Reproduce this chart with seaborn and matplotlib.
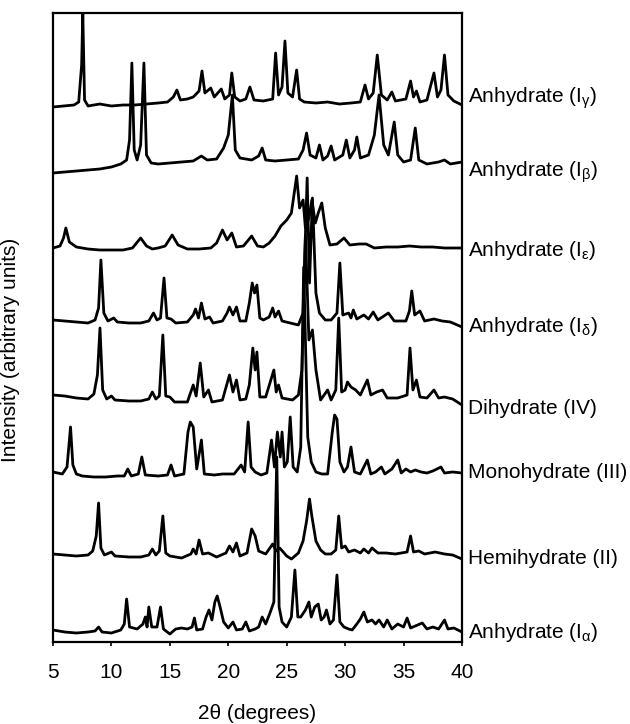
import matplotlib
matplotlib.use("Agg")
import matplotlib.pyplot as plt
import seaborn as sns

# Estilo base
sns.set_theme(style="ticks")
plt.rcParams['font.family'] = ['Liberation Sans', 'DejaVu Sans']
plt.rcParams['mathtext.fontset'] = 'custom'
plt.rcParams['mathtext.rm'] = 'Liberation Sans'
plt.rcParams['mathtext.it'] = 'Liberation Sans'
plt.rcParams['text.color'] = 'black'
plt.rcParams['axes.labelcolor'] = 'black'
plt.rcParams['xtick.color'] = 'black'

# Nombres de las fases (de arriba hacia abajo)
labels = [r'Anhydrate (I$_{\gamma}$)', r'Anhydrate (I$_{\beta}$)',
          r'Anhydrate (I$_{\varepsilon}$)', r'Anhydrate (I$_{\delta}$)',
          'Dihydrate (IV)', 'Monohydrate (III)', 'Hemihydrate (II)',
          r'Anhydrate (I$_{\alpha}$)']

# Desplazamiento vertical de cada difractograma (unidades arbitrarias)
offsets = [537, 472, 394, 319, 242, 165, 86, 10]
# Posicion vertical de cada etiqueta
label_y = [544, 470, 392, 315, 234, 169, 84, 10]

# Anhydrate (I gamma)
tt_gamma = [5.0, 6.8, 7.2, 7.45, 7.55, 7.7, 8.0, 9.0, 10.0, 11.0, 12.0, 13.0, 14.0, 14.8, 15.3, 15.6,
            15.9, 16.5, 17.0, 17.5, 17.75, 18.0, 18.5, 18.8, 19.4, 19.7, 20.1, 20.3, 20.55, 21.0,
            21.5, 21.85, 22.2, 23.0, 23.8, 24.05, 24.3, 24.6, 24.85, 25.1, 25.5, 25.85, 26.1, 26.5,
            27.5, 28.5, 29.5, 30.5, 31.3, 31.7, 32.0, 32.4, 32.75, 33.1, 33.6, 34.0, 34.3, 35.2,
            35.6, 35.85, 36.1, 36.4, 37.0, 37.6, 37.9, 38.2, 38.5, 38.8, 39.3, 40.0]
int_gamma = [-2, 0, 3, 40, 92, 5, -1, 1, -1, 0, 0, 1, 2, 3, 8, 15,
             5, 6, 8, 14, 34, 12, 17, 8, 16, 6, 10, 32, 8, 4,
             6, 18, 5, 4, 6, 52, 10, 18, 64, 12, 8, 35, 6, 3,
             2, 3, 1, 2, 3, 20, 6, 12, 50, 10, 5, 13, 4, 6,
             24, 8, 14, 3, 5, 32, 8, 15, 50, 10, 4, 0]

# Anhydrate (I beta)
tt_beta = [5.0, 6.0, 7.0, 8.0, 9.0, 10.0, 10.8, 11.3, 11.55, 11.75, 11.95, 12.2, 12.5, 12.78, 13.0,
           13.4, 14.0, 15.0, 16.0, 17.0, 17.7, 18.2, 19.0, 19.6, 20.0, 20.35, 20.6, 21.0, 22.0,
           22.6, 22.9, 23.2, 24.0, 25.0, 26.0, 26.4, 26.7, 27.0, 27.5, 27.8, 28.1, 28.5, 28.8,
           29.1, 29.8, 30.1, 30.4, 30.8, 31.0, 31.3, 32.0, 32.5, 32.9, 33.3, 33.7, 34.2, 34.5,
           35.0, 35.6, 36.0, 36.3, 37.0, 38.0, 38.5, 39.0, 40.0]
int_beta = [-3, -2, -1, 0, 1, 3, 6, 10, 30, 107, 20, 10, 25, 107, 15,
            7, 6, 7, 8, 9, 14, 10, 11, 22, 35, 75, 20, 12, 10,
            14, 22, 10, 9, 10, 11, 20, 37, 15, 12, 25, 10, 14, 24,
            10, 15, 30, 12, 20, 33, 12, 15, 35, 75, 25, 15, 48, 15,
            8, 10, 42, 10, 6, 8, 10, 6, 8]

# Anhydrate (I epsilon)
tt_eps = [5.0, 5.6, 5.9, 6.1, 6.4, 7.0, 8.0, 9.0, 10.0, 11.0, 11.8, 12.5, 13.0, 13.5, 14.0, 14.6,
          15.2, 15.7, 16.5, 17.5, 18.5, 19.0, 19.5, 19.9, 20.3, 20.7, 21.3, 22.0, 22.5, 23.0,
          23.5, 24.0, 24.5, 25.0, 25.4, 25.85, 26.1, 26.4, 26.6, 26.9, 27.15, 27.45, 27.7, 28.0,
          28.3, 28.7, 29.3, 29.9, 30.4, 31.2, 31.8, 32.5, 33.5, 34.5, 35.5, 36.5, 37.5, 38.5, 40.0]
int_eps = [0, 2, 10, 20, 6, 1, -1, -2, -2, -2, 0, 10, 2, -1, 0, 2,
           13, 3, -1, -1, 0, 5, 18, 8, 15, 1, 2, 12, 2, 1,
           5, 12, 22, 28, 35, 72, 40, 48, 20, 30, 48, 25, 35, 45,
           20, 3, 4, 10, 3, 4, 4, 0, 1, 1, 2, 1, 1, 0, 0]

# Anhydrate (I delta)
tt_delta = [5.0, 6.0, 7.0, 8.0, 8.6, 8.9, 9.1, 9.35, 9.7, 10.2, 10.5, 11.5, 12.5, 13.2, 13.6, 13.9,
            14.2, 14.5, 14.75, 15.1, 15.5, 16.5, 17.0, 17.2, 17.45, 17.7, 18.0, 18.4, 18.7, 19.5,
            19.9, 20.1, 20.4, 20.7, 21.0, 21.5, 21.8, 22.05, 22.25, 22.45, 22.7, 23.0, 23.5, 23.8,
            24.0, 24.3, 24.6, 25.3, 26.0, 26.4, 26.75, 26.95, 27.2, 27.5, 27.8, 28.3, 28.8, 29.3,
            29.55, 29.8, 30.3, 30.5, 30.7, 31.0, 31.6, 32.0, 32.4, 32.8, 33.7, 34.2, 35.2, 35.5,
            35.7, 35.95, 36.4, 36.8, 37.6, 38.3, 39.0, 40.0]
int_delta = [3, 2, 1, 0, 3, 15, 63, 10, 2, 5, 1, 0, 0, 2, 10, 3,
             5, 45, 5, 4, 0, 1, 8, 14, 5, 20, 4, 6, 0, 2,
             10, 16, 8, 16, 2, 2, 20, 40, 30, 38, 5, 3, 6, 15,
             6, 12, 2, 0, -2, 10, 145, 40, 125, 30, 10, 3, 3, 10,
             60, 8, 10, 5, 13, 4, 8, 4, 11, 3, 10, 2, 2, 12,
             32, 8, 12, 2, 4, 2, 1, -4]

# Dihydrate (IV)
tt_iv = [5.0, 6.0, 7.0, 8.0, 8.5, 8.8, 9.02, 9.25, 9.6, 10.0, 10.3, 11.5, 12.5, 13.2, 13.5, 13.8,
         14.1, 14.4, 14.65, 15.0, 15.4, 16.5, 17.0, 17.25, 17.6, 17.9, 18.3, 18.6, 19.5, 20.1,
         20.4, 20.7, 21.0, 21.5, 21.8, 22.1, 22.3, 22.45, 22.7, 23.2, 23.9, 24.1, 24.3, 24.6,
         25.5, 26.0, 26.3, 26.6, 26.9, 27.2, 27.5, 27.9, 28.5, 28.8, 29.2, 29.45, 29.7, 30.0,
         30.2, 30.5, 30.9, 31.3, 31.9, 32.2, 32.7, 33.2, 33.6, 34.5, 35.3, 35.55, 35.8, 36.1,
         36.4, 37.0, 37.6, 38.0, 38.5, 39.2, 40.0]
int_iv = [5, 4, 2, 1, 6, 25, 72, 10, 1, 4, 0, -1, -1, 1, 8, 1,
          4, 65, 4, 3, -2, -2, 15, 4, 37, 3, 10, -2, 0, 25,
          8, 20, 0, 1, 15, 52, 30, 48, 3, 3, 30, 8, 15, 2,
          0, 5, 30, 165, 60, 70, 30, 0, 10, 0, 10, 82, 8, 10,
          18, 13, 10, 5, 20, 5, 8, 10, 2, 2, 5, 52, 10, 20,
          3, 2, 10, 2, 3, 1, -5]

# Monohydrate (III)
tt_iii = [5.0, 5.8, 6.2, 6.5, 6.7, 7.0, 7.5, 8.5, 9.5, 10.5, 11.1, 11.4, 11.7, 12.3, 12.6, 12.9,
          14.0, 14.8, 15.1, 15.4, 16.2, 16.55, 16.75, 17.0, 17.3, 17.7, 17.95, 18.8, 19.5, 20.5,
          21.1, 21.4, 21.7, 21.95, 22.3, 22.8, 23.3, 23.7, 23.95, 24.2, 24.45, 24.6, 24.8, 25.05,
          25.3, 25.55, 25.9, 26.2, 26.45, 26.8, 27.1, 27.5, 28.0, 28.5, 28.9, 29.1, 29.3, 29.55,
          29.9, 30.2, 30.5, 30.8, 31.3, 31.9, 32.2, 32.6, 33.1, 33.4, 34.0, 34.5, 34.8, 35.2,
          35.6, 36.0, 36.5, 37.0, 37.5, 38.2, 38.5, 39.2, 40.0]
int_iii = [5, 3, 10, 50, 12, 3, 1, 0, 0, 1, 1, 8, 1, 3, 20, 2,
           1, 2, 12, 1, 3, 45, 55, 50, 8, 37, 3, 2, 3, 3,
           12, 5, 55, 10, 5, 2, 4, 37, 10, 45, 20, 45, 10, 15,
           60, 10, 5, 30, 210, 40, 15, 5, 3, 3, 45, 62, 58, 15,
           5, 10, 30, 5, 3, 17, 3, 5, 10, 3, 8, 17, 4, 8,
           5, 7, 5, 4, 6, 10, 4, 5, 4]

# Hemihydrate (II)
tt_ii = [5.0, 6.0, 7.0, 8.0, 8.4, 8.7, 8.9, 9.1, 9.4, 10.0, 10.3, 11.5, 12.5, 13.2, 13.5, 13.8,
         14.1, 14.4, 14.65, 15.0, 16.0, 16.8, 17.0, 17.25, 17.5, 17.8, 18.3, 19.0, 19.8, 20.1,
         20.4, 20.7, 21.0, 21.6, 22.0, 22.3, 22.6, 23.2, 23.8, 24.1, 24.4, 25.0, 25.4, 26.0,
         26.4, 26.7, 26.95, 27.15, 27.5, 27.9, 28.3, 28.8, 29.2, 29.45, 29.7, 30.0, 30.3, 30.8,
         31.3, 31.6, 32.0, 32.3, 32.8, 33.5, 34.3, 35.3, 35.6, 35.85, 36.3, 36.8, 37.7, 38.5,
         39.2, 40.0]
int_ii = [2, 1, 0, 1, 5, 20, 53, 8, 1, 4, 0, -1, -1, 1, 7, 1,
          5, 40, 3, 0, -2, 2, 7, 2, 16, 2, 3, -1, 3, 10,
          4, 13, 0, 3, 27, 20, 5, 2, 12, 5, 8, 0, -3, 3,
          15, 35, 57, 40, 15, 6, 2, 2, 6, 40, 8, 10, 4, 6,
          3, 7, 3, 8, 3, 3, 2, 4, 20, 4, 5, 2, 4, 2,
          1, -3]

# Anhydrate (I alpha)
tt_alpha = [5.0, 6.0, 7.0, 8.0, 8.6, 8.9, 9.2, 10.0, 10.8, 11.1, 11.3, 11.55, 12.2, 12.7, 12.9, 13.05,
            13.2, 13.45, 13.9, 14.2, 14.45, 15.0, 15.5, 16.0, 16.5, 16.9, 17.1, 17.3, 17.8, 18.1,
            18.35, 18.6, 18.85, 19.05, 19.3, 19.6, 20.0, 20.4, 20.7, 21.2, 21.5, 21.8, 22.3, 22.6,
            22.9, 23.2, 23.6, 23.9, 24.15, 24.35, 24.6, 25.0, 25.4, 25.7, 25.95, 26.2, 26.6, 26.9,
            27.1, 27.4, 27.7, 27.95, 28.2, 28.4, 28.7, 29.0, 29.3, 29.55, 29.9, 30.3, 30.6, 31.0,
            31.3, 31.6, 31.9, 32.3, 32.6, 32.9, 33.3, 33.6, 34.0, 34.5, 35.0, 35.3, 35.6, 36.0,
            36.6, 37.0, 37.5, 38.0, 38.5, 38.8, 39.3, 40.0]
int_alpha = [2, 0, -1, 0, 1, 5, 0, -1, 2, 8, 33, 5, 3, 8, 15, 5,
             25, 5, 5, 25, 3, -2, 3, 4, 3, 5, 14, 2, 3, 15,
             22, 12, 30, 36, 25, 10, 4, 10, 2, 3, 10, 1, 3, 5,
             15, 8, 20, 30, 175, 25, 10, 5, 15, 62, 15, 15, 22, 30,
             15, 25, 28, 12, 15, 22, 8, 12, 57, 10, 5, 3, 2, 8,
             13, 20, 10, 12, 8, 12, 5, 12, 3, 8, 5, 14, 4, 6,
             9, 3, 5, 3, 12, 3, 4, 0]

two_theta = [tt_gamma, tt_beta, tt_eps, tt_delta, tt_iv, tt_iii, tt_ii, tt_alpha]
intensity = [int_gamma, int_beta, int_eps, int_delta, int_iv, int_iii, int_ii, int_alpha]

fig = plt.figure(figsize=(6.3, 7.24), dpi=100)
ax = fig.add_axes([53 / 630, 1 - 642 / 724, 409 / 630, 629 / 724])

for tt, inten, off in zip(two_theta, intensity, offsets):
    y = [v + off for v in inten]
    sns.lineplot(x=tt, y=y, ax=ax, color='black', linewidth=2.0,
                 sort=False, estimator=None)

# Etiquetas de cada fase a la derecha
for lab, ly in zip(labels, label_y):
    ax.text(1.015, ly, lab, transform=ax.get_yaxis_transform(),
            fontsize=15, va='center', ha='left', clip_on=False)

ax.set_xlim(5, 40)
ax.set_ylim(0, 629)
ax.set_xticks([5, 10, 15, 20, 25, 30, 35, 40])
ax.set_yticks([])
ax.tick_params(axis='x', labelsize=15, length=3, width=1.2, pad=12)
ax.set_xlabel('2θ (degrees)', fontsize=15, labelpad=16)
ax.set_ylabel('Intensity (arbitrary units)', fontsize=15)
ax.yaxis.set_label_coords(-0.08, 0.465)

for sp in ax.spines.values():
    sp.set_linewidth(1.6)
    sp.set_color('black')

plt.savefig('out.png', dpi=100)
